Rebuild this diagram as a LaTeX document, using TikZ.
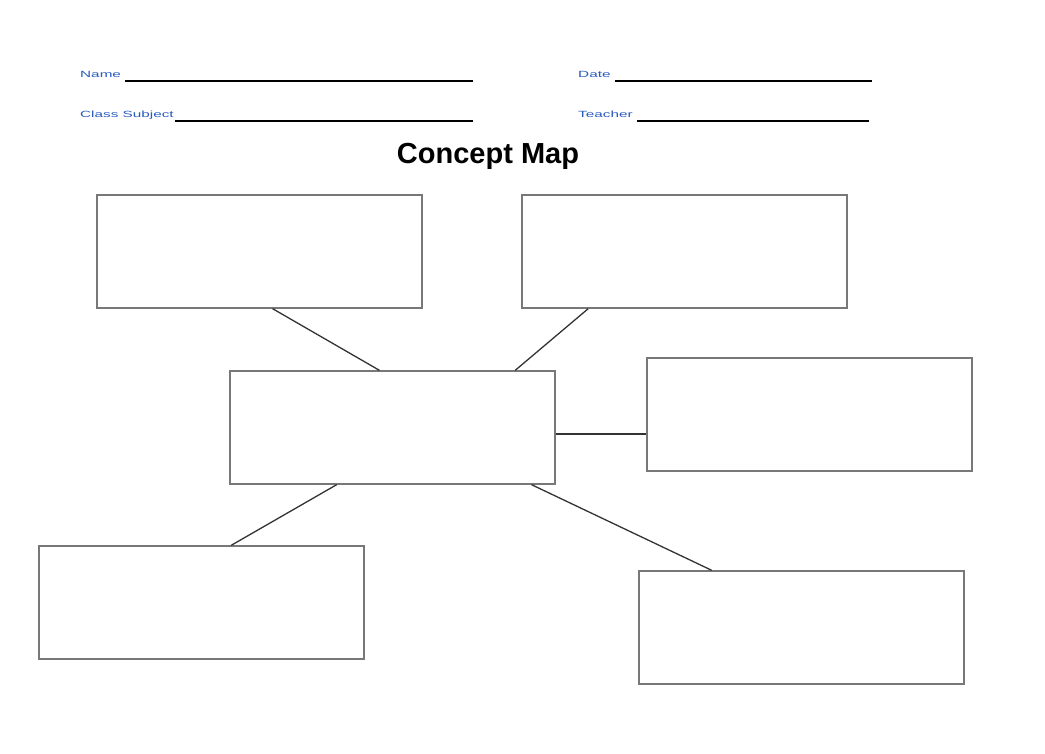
\documentclass[tikz,border=0pt]{standalone}
\usepackage{fontspec}
\setmainfont{Liberation Sans}
\usetikzlibrary{calc}
\definecolor{lbl}{RGB}{40,90,190}
\definecolor{boxc}{RGB}{120,120,120}
\newcommand{\widelab}[1]{\scalebox{1.7}[1]{#1}}
\begin{document}
\begin{tikzpicture}[x=1pt,y=-1pt,
  cbox/.style={draw=boxc,line width=1.3pt,minimum width=325pt,minimum height=113pt,inner sep=0pt},
  conn/.style={draw=black!80,line width=1.3pt},
  lab/.style={text=lbl,font=\fontsize{9}{10}\selectfont,anchor=base west,inner sep=0pt},
  ul/.style={line width=1.6pt}]
\useasboundingbox (0,0) rectangle (1045,754);
\node[lab] (n) at (80,78) {\widelab{Name}};
\draw[ul] (125,81) -- (473,81);
\node[lab] (c) at (80,118) {\widelab{Class Subject}};
\draw[ul] (175,121) -- (473,121);
\node[lab] (d) at (578,78) {\widelab{Date}};
\draw[ul] (615,81) -- (872,81);
\node[lab] (t) at (578,118) {\widelab{Teacher}};
\draw[ul] (637,121) -- (869,121);
\node[font=\bfseries\fontsize{29}{34}\selectfont] (title) at (488,156) {Concept Map};
\node[cbox] (a) at (259.5,251.5) {};
\node[cbox] (b) at (684.5,251.5) {};
\node[cbox] (m) at (392.5,427.5) {};
\node[cbox] (r) at (809.5,414.5) {};
\node[cbox] (e) at (201.5,602.5) {};
\node[cbox] (f) at (801.5,627.5) {};
\draw[conn] ($(a.south west)!0.54!(a.south east)$) -- ($(m.north west)!0.46!(m.north east)$);
\draw[conn] ($(b.south west)!0.205!(b.south east)$) -- ($(m.north west)!0.876!(m.north east)$);
\draw[conn] (m.east |- 0,434) -- (r.west |- 0,434);
\draw[conn] ($(m.south west)!0.329!(m.south east)$) -- ($(e.north west)!0.591!(e.north east)$);
\draw[conn] ($(m.south west)!0.926!(m.south east)$) -- ($(f.north west)!0.225!(f.north east)$);
\end{tikzpicture}
\end{document}
